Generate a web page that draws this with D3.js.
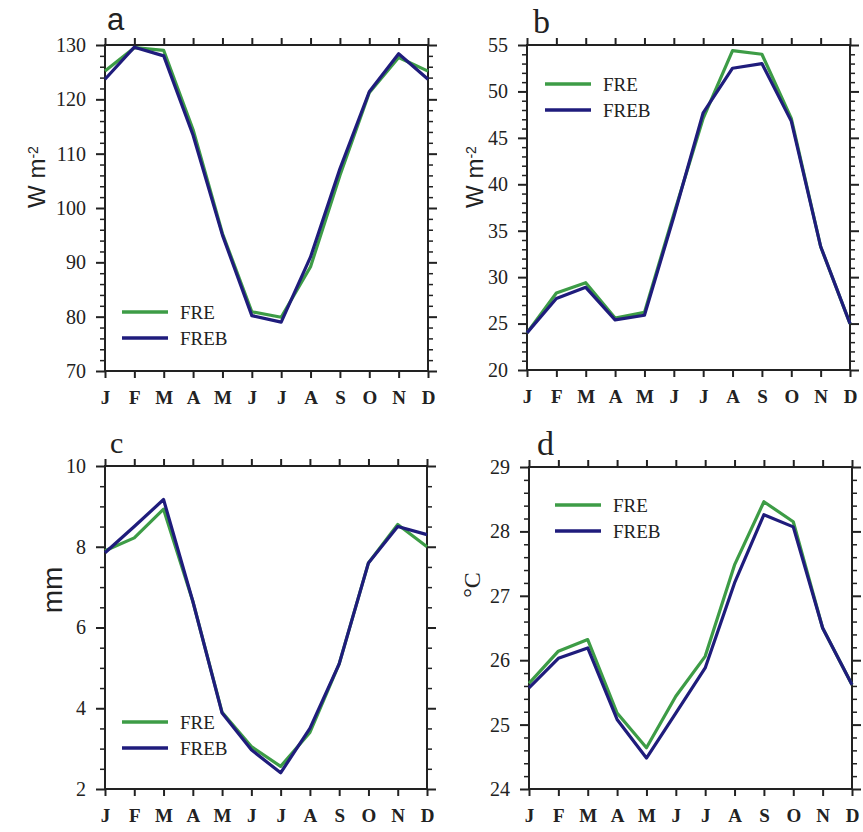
<!DOCTYPE html>
<html>
<head>
<meta charset="utf-8">
<script src="https://cdn.jsdelivr.net/npm/d3@7"></script>
<style>
  html, body { margin: 0; padding: 0; background: #fff; }
  svg { display: block; }
</style>
</head>
<body>
<script>
// ---- data ----
const months = ["J","F","M","A","M","J","J","A","S","O","N","D"];
const seriesNames = ["FRE", "FREB"];

const freA  = [125.2, 129.5, 129.0, 114.4, 95.3, 80.9, 79.9, 89.2, 106.0, 121.2, 127.7, 125.2];
const frebA = [123.7, 129.6, 128.0, 113.4, 95.0, 80.2, 79.0, 91.0, 107.2, 121.4, 128.4, 123.7];

const freB  = [24.0, 28.3, 29.4, 25.6, 26.2, 36.8, 47.1, 54.4, 54.0, 47.1, 33.3, 25.0];
const frebB = [24.0, 27.7, 28.9, 25.4, 25.9, 36.5, 47.7, 52.5, 53.0, 46.8, 33.3, 25.0];

const freC  = [7.90, 8.22, 8.93, 6.65, 3.90, 3.05, 2.56, 3.40, 5.10, 7.60, 8.55, 8.00];
const frebC = [7.85, 8.50, 9.17, 6.65, 3.88, 2.97, 2.40, 3.50, 5.10, 7.60, 8.50, 8.30];

const freD  = [25.64, 26.14, 26.32, 25.18, 24.64, 25.44, 26.06, 27.48, 28.46, 28.15, 26.50, 25.62];
const frebD = [25.57, 26.03, 26.19, 25.08, 24.48, 25.18, 25.88, 27.20, 28.26, 28.07, 26.50, 25.62];

const yTicksA = [70, 80, 90, 100, 110, 120, 130];
const yTicksB = [20, 25, 30, 35, 40, 45, 50, 55];
const yTicksC = [2, 4, 6, 8, 10];
const yTicksD = [24, 25, 26, 27, 28, 29];

const panelLabels = ["a", "b", "c", "d"];

// ---- layout / style ----
const W = 863, H = 832;
const colors = ["#3d9c46", "#1f1c7c"];

const svg = d3.select("body").append("svg").attr("width", W).attr("height", H);

const panels = [
  { label: panelLabels[0], fre: freA, freb: frebA, ticks: yTicksA, minor: 2,   left: 105, right: 428, top: 45,  bottom: 371,
    titleX: 107, titleY: 30, titleFont: "Liberation Sans", titleSize: 31,
    legX: 122, legY: 312, ylab: "wm", ylabX: 45, ylabY: 177 },
  { label: panelLabels[1], fre: freB, freb: frebB, ticks: yTicksB, minor: 1,   left: 527, right: 850, top: 45,  bottom: 370,
    titleX: 533, titleY: 33, titleFont: "Liberation Serif", titleSize: 34,
    legX: 545, legY: 84, ylab: "wm", ylabX: 483, ylabY: 177 },
  { label: panelLabels[2], fre: freC, freb: frebC, ticks: yTicksC, minor: 0.5, left: 105, right: 427, top: 466, bottom: 789,
    titleX: 110, titleY: 453, titleFont: "Liberation Serif", titleSize: 30,
    legX: 122, legY: 722, ylab: "mm", ylabX: 62, ylabY: 590 },
  { label: panelLabels[3], fre: freD, freb: frebD, ticks: yTicksD, minor: 0.2, left: 529, right: 852, top: 467, bottom: 789,
    titleX: 537, titleY: 455, titleFont: "Liberation Serif", titleSize: 34,
    legX: 555, legY: 505, ylab: "degC", ylabX: 480, ylabY: 585 }
];

panels.forEach(p => {
  const g = svg.append("g");
  const x = d3.scalePoint().domain(d3.range(12)).range([p.left, p.right]);
  const yDom = d3.extent(p.ticks);
  const y = d3.scaleLinear().domain(yDom).range([p.bottom, p.top]);

  const nMinor = Math.round((yDom[1] - yDom[0]) / p.minor);
  const minorVals = d3.range(nMinor + 1).map(i => +(yDom[0] + i * p.minor).toFixed(4))
    .filter(v => !p.ticks.some(t => Math.abs(t - v) < 1e-6));

  const styleAxis = sel => {
    sel.select(".domain").remove();
    sel.selectAll("line").attr("stroke", "#222").attr("stroke-width", 2);
  };

  g.append("g").attr("transform", `translate(${p.left},0)`)
    .call(d3.axisLeft(y).tickValues(p.ticks).tickSize(9).tickSizeOuter(0).tickPadding(10).tickFormat(d3.format("d")))
    .call(styleAxis)
    .call(s => s.selectAll("text").attr("font-family", "Liberation Serif").attr("font-size", 20).attr("fill", "#222"));
  g.append("g").attr("transform", `translate(${p.left},0)`)
    .call(d3.axisLeft(y).tickValues(minorVals).tickSize(5).tickSizeOuter(0).tickFormat(""))
    .call(styleAxis).call(s => s.selectAll("line").attr("stroke-width", 1.5));
  g.append("g").attr("transform", `translate(${p.right},0)`)
    .call(d3.axisRight(y).tickValues(p.ticks).tickSize(9).tickSizeOuter(0).tickFormat(""))
    .call(styleAxis);
  g.append("g").attr("transform", `translate(${p.right},0)`)
    .call(d3.axisRight(y).tickValues(minorVals).tickSize(5).tickSizeOuter(0).tickFormat(""))
    .call(styleAxis).call(s => s.selectAll("line").attr("stroke-width", 1.5));
  g.append("g").attr("transform", `translate(0,${p.bottom})`)
    .call(d3.axisBottom(x).tickSize(7).tickSizeOuter(0).tickPadding(13).tickFormat(i => months[i]))
    .call(styleAxis)
    .call(s => s.selectAll("text").attr("font-family", "Liberation Serif").attr("font-weight", "bold")
      .attr("font-size", 19).attr("fill", "#222"));
  g.append("g").attr("transform", `translate(0,${p.top})`)
    .call(d3.axisTop(x).tickSize(7).tickSizeOuter(0).tickFormat(""))
    .call(styleAxis);

  g.append("rect").attr("x", p.left).attr("y", p.top)
    .attr("width", p.right - p.left).attr("height", p.bottom - p.top)
    .attr("fill", "none").attr("stroke", "#222").attr("stroke-width", 2);

  const line = d3.line().x((d, i) => x(i)).y(d => y(d));
  [p.fre, p.freb].forEach((vals, k) => {
    g.append("path").datum(vals).attr("d", line)
      .attr("fill", "none").attr("stroke", colors[k]).attr("stroke-width", 3.2)
      .attr("stroke-linejoin", "round");
  });

  seriesNames.forEach((name, k) => {
    const ly = p.legY + k * 26;
    g.append("line").attr("x1", p.legX).attr("x2", p.legX + 46).attr("y1", ly).attr("y2", ly)
      .attr("stroke", colors[k]).attr("stroke-width", 3.5);
    g.append("text").attr("x", p.legX + 58).attr("y", ly).attr("dy", "0.35em")
      .attr("font-family", "Liberation Serif").attr("font-size", 19).attr("fill", "#222").text(name);
  });

  g.append("text").attr("x", p.titleX).attr("y", p.titleY)
    .attr("font-family", p.titleFont).attr("font-size", p.titleSize).attr("fill", "#222").text(p.label);

  const yl = g.append("text").attr("transform", `translate(${p.ylabX},${p.ylabY}) rotate(-90)`)
    .attr("text-anchor", "middle").attr("fill", "#222");
  if (p.ylab === "wm") {
    yl.attr("font-family", "Liberation Sans").attr("font-size", 24);
    yl.append("tspan").text("W m");
    yl.append("tspan").attr("font-size", 14).attr("dy", -7).text("-2");
  } else if (p.ylab === "mm") {
    yl.attr("font-family", "Liberation Sans").attr("font-size", 28).text("mm");
  } else {
    yl.attr("font-family", "Liberation Serif").attr("font-size", 24).text("°C");
  }
});
</script>
</body>
</html>
